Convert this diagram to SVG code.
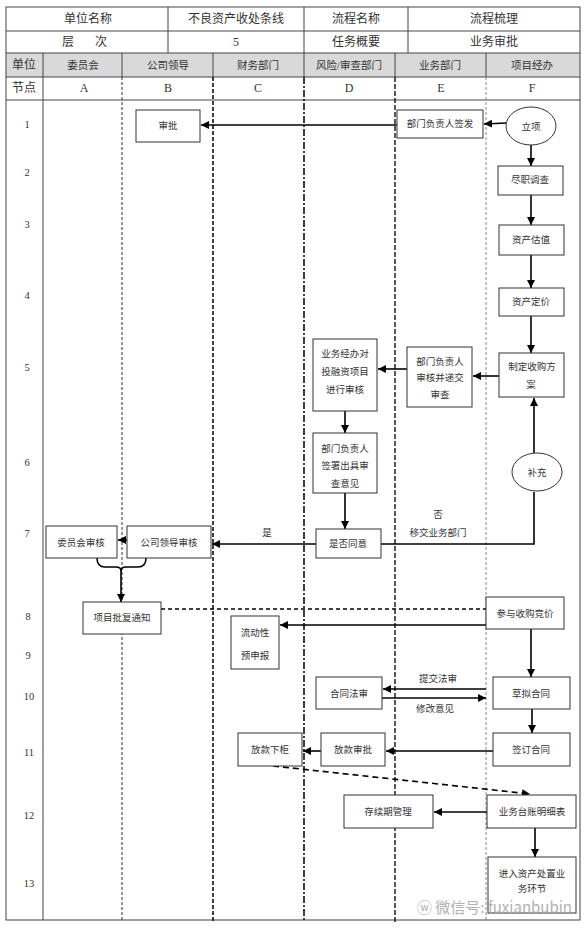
<svg xmlns="http://www.w3.org/2000/svg" width="586" height="929" viewBox="0 0 586 929">
<style>
text{font-family:"Liberation Serif","Noto Sans CJK SC",serif;fill:#333;text-anchor:middle;dominant-baseline:central}
.h{font-size:12px}
.n{font-size:10.5px}
.t{font-size:9.5px}
.box{fill:#fff;stroke:#333;stroke-width:1}
.g{fill:#d9d9d9}
.bd{fill:none;stroke:#444;stroke-width:1}
.c{fill:none;stroke:#000;stroke-width:1.6}
.ca{fill:none;stroke:#000;stroke-width:1.6;marker-end:url(#ah)}
.l1{stroke:#333;stroke-width:1;stroke-dasharray:3 2}
.l2{stroke:#111;stroke-width:1.6;stroke-dasharray:4 2}
.l3{stroke:#111;stroke-width:1.6;stroke-dasharray:7 2 2 2}
.l4{stroke:#111;stroke-width:1.4;stroke-dasharray:5 2}
.l5{stroke:#888;stroke-width:1;stroke-dasharray:3 2}
.wm{font-family:"Noto Sans CJK SC",sans-serif;font-size:15px;fill:#aaa;text-anchor:start;opacity:.9}
</style>
<defs>
<marker id="ah" viewBox="0 0 10 10" refX="10" refY="5" markerWidth="8" markerHeight="8" markerUnits="userSpaceOnUse" orient="auto">
<path d="M0,0 L10,5 L0,10 z" fill="#000"/>
</marker>
</defs>
<rect width="586" height="929" fill="#fff"/>
<g id="table">
<rect class="g" x="6" y="53" width="574" height="24"/>
<rect class="bd" x="6" y="7" width="574" height="913"/>
<line class="bd" x1="6" y1="31" x2="580" y2="31"/>
<line class="bd" x1="6" y1="53" x2="580" y2="53"/>
<line class="bd" x1="6" y1="77" x2="580" y2="77"/>
<line class="bd" x1="6" y1="100" x2="580" y2="100"/>
<line class="bd" x1="168" y1="7" x2="168" y2="53"/>
<line class="bd" x1="304" y1="7" x2="304" y2="53"/>
<line class="bd" x1="408" y1="7" x2="408" y2="53"/>
<line class="bd" x1="43" y1="53" x2="43" y2="920"/>
<line class="bd" x1="122" y1="53" x2="122" y2="77"/>
<line class="bd" x1="213" y1="53" x2="213" y2="77"/>
<line class="bd" x1="304" y1="53" x2="304" y2="77"/>
<line class="bd" x1="395" y1="53" x2="395" y2="77"/>
<line class="bd" x1="486" y1="53" x2="486" y2="77"/>
<line class="l1" x1="122" y1="77" x2="122" y2="922"/>
<line class="l2" x1="213" y1="77" x2="213" y2="922"/>
<line class="l3" x1="304" y1="77" x2="304" y2="922"/>
<line class="l4" x1="395" y1="77" x2="395" y2="922"/>
<line class="l5" x1="486" y1="77" x2="486" y2="922"/>
<text class="h" x="88" y="19">单位名称</text>
<text class="h" x="236" y="19">不良资产收处条线</text>
<text class="h" x="356" y="19">流程名称</text>
<text class="h" x="494" y="19">流程梳理</text>
<text class="h" x="68" y="42">层</text>
<text class="h" x="101" y="42">次</text>
<text class="h" x="236" y="42">5</text>
<text class="h" x="356" y="42">任务概要</text>
<text class="h" x="494" y="42">业务审批</text>
<text class="h" x="24" y="65">单位</text>
<text class="n" x="83" y="65">委员会</text>
<text class="n" x="168" y="65">公司领导</text>
<text class="n" x="258" y="65">财务部门</text>
<text class="n" x="349" y="65">风险/审查部门</text>
<text class="n" x="440" y="65">业务部门</text>
<text class="n" x="532" y="65">项目经办</text>
<text class="h" x="24" y="88">节点</text>
<text class="h" x="84" y="88">A</text>
<text class="h" x="168" y="88">B</text>
<text class="h" x="258" y="88">C</text>
<text class="h" x="349" y="88">D</text>
<text class="h" x="441" y="88">E</text>
<text class="h" x="532" y="88">F</text>
<text class="n" x="27" y="124">1</text>
<text class="n" x="27" y="172">2</text>
<text class="n" x="27" y="224">3</text>
<text class="n" x="27" y="295">4</text>
<text class="n" x="27" y="367">5</text>
<text class="n" x="27" y="462">6</text>
<text class="n" x="27" y="533">7</text>
<text class="n" x="28" y="616">8</text>
<text class="n" x="28" y="655">9</text>
<text class="n" x="29" y="696">10</text>
<text class="n" x="29" y="752">11</text>
<text class="n" x="29" y="815">12</text>
<text class="n" x="29" y="883">13</text>
</g>
<g id="connectors">
<line class="ca" x1="506" y1="123" x2="484" y2="124"/>
<line class="ca" x1="397" y1="125" x2="201" y2="125"/>
<line class="ca" x1="531" y1="145" x2="531" y2="166"/>
<line class="ca" x1="531" y1="195" x2="531" y2="225"/>
<line class="ca" x1="531" y1="255" x2="531" y2="288"/>
<line class="ca" x1="531" y1="316" x2="531" y2="353"/>
<line class="ca" x1="499" y1="376" x2="473" y2="376"/>
<line class="ca" x1="407" y1="369" x2="378" y2="369"/>
<line class="ca" x1="345" y1="411" x2="345" y2="433"/>
<line class="ca" x1="345" y1="493" x2="345" y2="529"/>
<line class="ca" x1="316" y1="544" x2="212" y2="544"/>
<line class="ca" x1="127" y1="540" x2="118" y2="540"/>
<polyline class="c" points="381,544 534,544 534,492"/>
<line class="ca" x1="534" y1="453" x2="534" y2="398"/>
<path class="c" stroke-width="1" d="M97,558 Q97,567 105,567 L116,567 Q121,567 121,571 Q121,567 126,567 L138,567 Q146,567 146,558"/>
<line class="ca" x1="121" y1="569" x2="121" y2="602"/>
<line class="c" stroke-width="1.3" stroke-dasharray="4 3" x1="161" y1="609" x2="486" y2="609"/>
<line class="ca" x1="486" y1="625" x2="280" y2="625"/>
<line class="ca" x1="531" y1="629" x2="531" y2="677"/>
<line class="ca" x1="486" y1="689" x2="383" y2="689"/>
<line class="ca" x1="382" y1="698" x2="486" y2="698"/>
<line class="ca" x1="532" y1="709" x2="532" y2="733"/>
<line class="ca" x1="493" y1="751" x2="386" y2="751"/>
<line class="ca" x1="321" y1="751" x2="303" y2="751"/>
<line class="ca" stroke-dasharray="6 4" x1="273" y1="766" x2="530" y2="794"/>
<line class="ca" x1="487" y1="812" x2="434" y2="812"/>
<line class="ca" x1="535" y1="828" x2="535" y2="857"/>
<text class="t" x="438" y="515">否</text>
<text class="t" x="438" y="533">移交业务部门</text>
<text class="t" x="267" y="533">是</text>
<text class="t" x="438" y="679">提交法审</text>
<text class="t" x="435" y="709">修改意见</text>
</g>
<g id="n-shenpi"><rect class="box" x="136" y="110" width="64" height="32"/><text class="t" x="168" y="126">审批</text></g>
<g id="n-qianfa"><rect class="box" x="397" y="110" width="86" height="28"/><text class="t" x="440" y="124">部门负责人签发</text></g>
<g id="n-lixiang"><ellipse class="box" cx="531" cy="126" rx="25" ry="19"/><text class="t" x="531" y="127">立项</text></g>
<g id="n-jinzhi"><rect class="box" x="498" y="166" width="65" height="29"/><text class="t" x="530" y="180">尽职调查</text></g>
<g id="n-guzhi"><rect class="box" x="499" y="225" width="65" height="30"/><text class="t" x="531" y="240">资产估值</text></g>
<g id="n-dingjia"><rect class="box" x="499" y="288" width="65" height="28"/><text class="t" x="531" y="302">资产定价</text></g>
<g id="n-fangan"><rect class="box" x="499" y="353" width="65" height="44"/><text class="t" x="532" y="367">制定收购方</text><text class="t" x="531" y="385">案</text></g>
<g id="n-shenhe-e"><rect class="box" x="407" y="347" width="65" height="60"/><text class="t" x="440" y="362">部门负责人</text><text class="t" x="440" y="378">审核并递交</text><text class="t" x="440" y="395">审查</text></g>
<g id="n-jingban"><rect class="box" x="313" y="339" width="64" height="72"/><text class="t" x="345" y="354">业务经办对</text><text class="t" x="345" y="372">投融资项目</text><text class="t" x="345" y="390">进行审核</text></g>
<g id="n-qianshu"><rect class="box" x="313" y="433" width="64" height="60"/><text class="t" x="345" y="449">部门负责人</text><text class="t" x="345" y="466">签署出具审</text><text class="t" x="345" y="484">查意见</text></g>
<g id="n-buchong"><ellipse class="box" cx="537" cy="472" rx="25" ry="19"/><text class="t" x="537" y="473">补充</text></g>
<g id="n-tongyi"><rect class="box" x="316" y="529" width="65" height="29"/><text class="t" x="348" y="544">是否同意</text></g>
<g id="n-lingdao"><rect class="box" x="127" y="526" width="84" height="32"/><text class="t" x="169" y="543">公司领导审核</text></g>
<g id="n-weiyuanhui"><rect class="box" x="46" y="526" width="71" height="32"/><text class="t" x="81" y="543">委员会审核</text></g>
<g id="n-pifu"><rect class="box" x="83" y="602" width="78" height="32"/><text class="t" x="122" y="618">项目批复通知</text></g>
<g id="n-jingjia"><rect class="box" x="486" y="597" width="78" height="32"/><text class="t" x="525" y="614">参与收购竞价</text></g>
<g id="n-liudong"><rect class="box" x="231" y="616" width="48" height="53"/><text class="t" x="255" y="633">流动性</text><text class="t" x="255" y="656">预申报</text></g>
<g id="n-caoni"><rect class="box" x="493" y="677" width="77" height="32"/><text class="t" x="531" y="694">草拟合同</text></g>
<g id="n-fashen"><rect class="box" x="316" y="677" width="66" height="32"/><text class="t" x="349" y="694">合同法审</text></g>
<g id="n-qianding"><rect class="box" x="493" y="733" width="77" height="33"/><text class="t" x="531" y="750">签订合同</text></g>
<g id="n-fangkuanshenpi"><rect class="box" x="321" y="733" width="64" height="33"/><text class="t" x="353" y="750">放款审批</text></g>
<g id="n-xiagui"><rect class="box" x="238" y="733" width="64" height="33"/><text class="t" x="270" y="750">放款下柜</text></g>
<g id="n-cunxu"><rect class="box" x="344" y="795" width="89" height="33"/><text class="t" x="388" y="812">存续期管理</text></g>
<g id="n-taizhang"><rect class="box" x="487" y="795" width="89" height="33"/><text class="t" x="532" y="812">业务台账明细表</text></g>
<g id="n-chuzhi"><rect class="box" x="488" y="857" width="88" height="56"/><text class="t" x="532" y="874">进入资产处置业</text><text class="t" x="532" y="889">务环节</text></g>
<g id="watermark"><text class="wm" x="417" y="906">ⓦ 微信号: fuxianbubin</text></g>
</svg>
